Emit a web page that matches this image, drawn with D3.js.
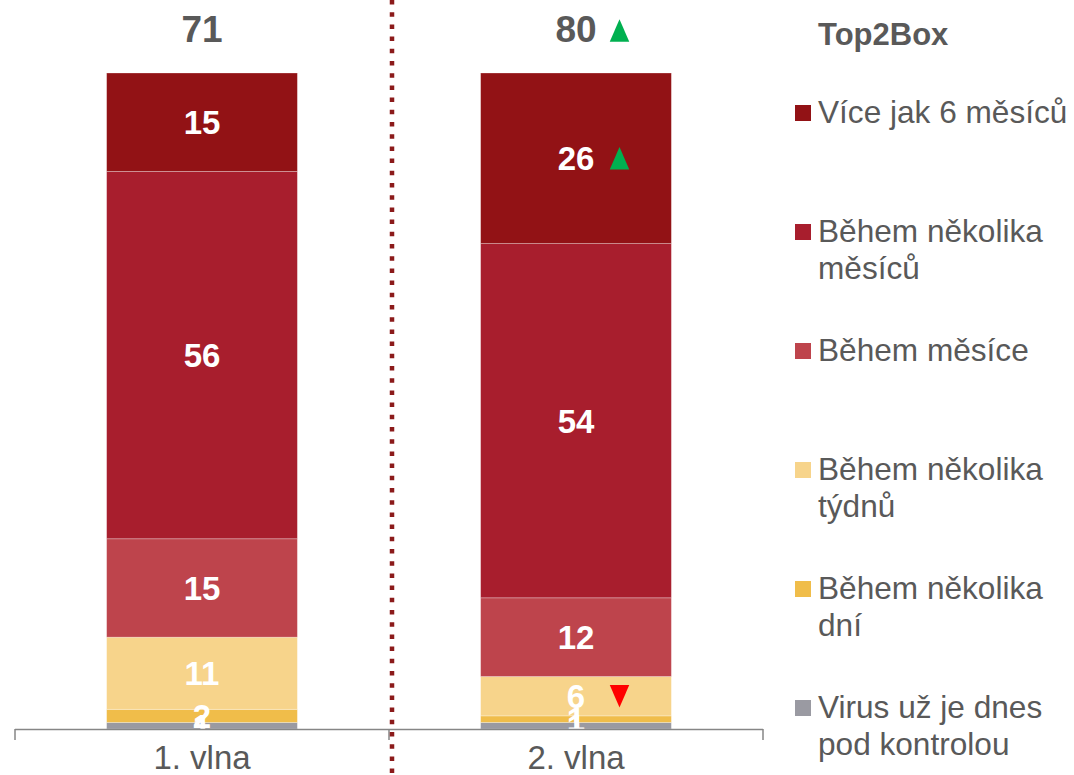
<!DOCTYPE html>
<meta charset='utf-8'>
<style>
body { margin: 0; background: #fff; }
svg { display: block; }
text { font-family: 'Liberation Sans', Arial, sans-serif; }
</style>
<svg width="1074" height="775"></svg>
<script src="https://cdn.jsdelivr.net/npm/d3@7"></script>
<script>

// data
const categories = ['1. vlna', '2. vlna'];
const series = ['Více jak 6 měsíců', 'Během několika měsíců', 'Během měsíce',
                'Během několika týdnů', 'Během několika dní', 'Virus už je dnes pod kontrolou'];
const legendLines = [['Více jak 6 měsíců'], ['Během několika', 'měsíců'], ['Během měsíce'],
                     ['Během několika', 'týdnů'], ['Během několika', 'dní'], ['Virus už je dnes', 'pod kontrolou']];
const wave1 = [15, 56, 15, 11, 2, 1];
const wave2 = [26, 54, 12, 6, 1, 1];
const top2box = [71, 80];
const top2boxSig = [null, 'up'];
const wave2Sig = ['up', null, null, 'down', null, null];

const colors = ['#921215', '#a81e2d', '#be444c', '#f7d48b', '#f0bd4a', '#9a9aa2'];
const textGrey = '#595959';

const svg = d3.select('svg');

const x = d3.scaleBand()
  .domain(categories)
  .range([15, 763])
  .paddingInner(0.49)
  .paddingOuter(0.245);

const y = d3.scaleLinear()
  .domain([0, 100])
  .range([729, 73]);

const color = d3.scaleOrdinal().domain(series).range(colors);

// table for the stack
const table = categories.map((c, i) => {
  const row = { cat: c };
  const vals = i === 0 ? wave1 : wave2;
  series.forEach((s, j) => row[s] = vals[j]);
  return row;
});
const sigTable = [series.map(() => null), wave2Sig];

// bottom series first
const stack = d3.stack().keys(series.slice().reverse());
const layers = stack(table);

svg.append('defs').append('clipPath')
  .attr('id', 'plotClip')
  .append('rect')
  .attr('x', 0).attr('y', 0).attr('width', 780).attr('height', y(0));

const gBars = svg.append('g');

layers.forEach(layer => {
  const g = gBars.append('g').attr('fill', color(layer.key));
  g.selectAll('rect')
    .data(layer)
    .join('rect')
    .attr('x', d => x(d.data.cat))
    .attr('y', d => y(d[1]))
    .attr('width', x.bandwidth())
    .attr('height', d => y(d[0]) - y(d[1]))
    .attr('stroke', 'rgba(255,255,255,0.35)')
    .attr('stroke-width', 0.8);
});

// segment labels
const gLabels = svg.append('g').attr('clip-path', 'url(#plotClip)');
layers.forEach(layer => {
  const si = series.indexOf(layer.key);
  layer.forEach((d, ci) => {
    const cx = x(d.data.cat) + x.bandwidth() / 2;
    const cy = (y(d[0]) + y(d[1])) / 2;
    gLabels.append('text')
      .attr('x', cx)
      .attr('y', cy + 12)
      .attr('text-anchor', 'middle')
      .attr('font-size', 33)
      .attr('font-weight', 'bold')
      .attr('fill', '#fff')
      .text(d[1] - d[0]);
    const sig = sigTable[ci][si];
    if (sig) triangle(gLabels, cx + 43.5, cy, sig);
  });
});

function triangle(g, cx, cy, dir) {
  const w = 19.5, h = 22.5;
  const pts = dir === 'up'
    ? [[cx - w / 2, cy + h / 2], [cx + w / 2, cy + h / 2], [cx, cy - h / 2]]
    : [[cx - w / 2, cy - h / 2], [cx + w / 2, cy - h / 2], [cx, cy + h / 2]];
  g.append('path')
    .attr('d', d3.line()(pts) + 'Z')
    .attr('fill', dir === 'up' ? '#00b050' : '#ff0000');
}

// totals on top
categories.forEach((c, i) => {
  const cx = x(c) + x.bandwidth() / 2;
  svg.append('text')
    .attr('x', cx)
    .attr('y', 42)
    .attr('text-anchor', 'middle')
    .attr('font-size', 37)
    .attr('font-weight', 'bold')
    .attr('fill', textGrey)
    .text(top2box[i]);
  if (top2boxSig[i]) triangle(svg, cx + 43.5, 30.5, top2boxSig[i]);
});

// axis
const step = x.step();
const axisG = svg.append('g').attr('stroke', '#868686').attr('stroke-width', 1.5).attr('fill', 'none');
axisG.append('line').attr('x1', 15).attr('x2', 763).attr('y1', y(0) + 0.5).attr('y2', y(0) + 0.5);
d3.range(categories.length + 1).forEach(i => {
  const tx = 15 + i * step;
  axisG.append('line').attr('x1', tx).attr('x2', tx).attr('y1', y(0)).attr('y2', y(0) + 11);
});

svg.append('g').selectAll('text')
  .data(categories)
  .join('text')
  .attr('x', d => x(d) + x.bandwidth() / 2)
  .attr('y', 769)
  .attr('text-anchor', 'middle')
  .attr('font-size', 33)
  .attr('fill', textGrey)
  .text(d => d);

// dotted divider
svg.append('line')
  .attr('x1', 392).attr('x2', 392)
  .attr('y1', 0).attr('y2', 775)
  .attr('stroke', '#8b1a1a')
  .attr('stroke-width', 4.5)
  .attr('stroke-dasharray', '4.5 7.7');

// legend
svg.append('text')
  .attr('x', 818).attr('y', 45)
  .attr('font-size', 31)
  .attr('font-weight', 'bold')
  .attr('fill', textGrey)
  .text('Top2Box');

const legend = svg.append('g').selectAll('g')
  .data(series)
  .join('g')
  .attr('transform', (d, i) => `translate(795,${123 + i * 119})`);

legend.append('rect')
  .attr('x', 0).attr('y', -18)
  .attr('width', 16).attr('height', 16)
  .attr('fill', d => color(d));

legend.append('text')
  .attr('font-size', 31.6)
  .attr('fill', textGrey)
  .selectAll('tspan')
  .data((d, i) => legendLines[i])
  .join('tspan')
  .attr('x', 23)
  .attr('dy', (d, i) => i === 0 ? 0 : 37)
  .text(d => d);

</script>
